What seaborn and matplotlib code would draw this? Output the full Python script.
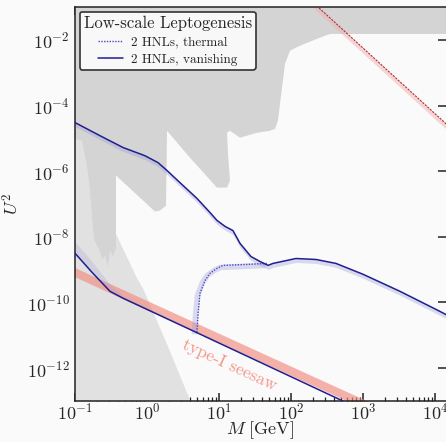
import numpy as np
import matplotlib
matplotlib.use("Agg")
import matplotlib.pyplot as plt
import seaborn as sns
import pandas as pd
from matplotlib.lines import Line2D
from matplotlib.ticker import LogLocator, NullLocator, FixedLocator

# --- values (log10 of M [GeV] and of U^2) ---
vanish_upper_logM = [-1.0, -0.653, -0.333, -0.028, 0.153, 0.278, 0.458, 0.694, 0.875,
                     0.972, 1.083, 1.194, 1.292, 1.444, 1.569, 1.681, 1.750, 2.069,
                     2.347, 2.625, 3.0, 3.514, 4.014, 4.2]
vanish_upper_logU2 = [-4.52, -4.92, -5.28, -5.53, -5.74, -5.98, -6.35, -6.83, -7.26,
                      -7.50, -7.68, -7.81, -8.20, -8.60, -8.75, -8.87, -8.81, -8.66,
                      -8.69, -8.81, -9.14, -9.66, -10.21, -10.42]

vanish_lower_logM = [-1.0, -0.764, -0.514, -0.333, 0.694, 2.75]
vanish_lower_logU2 = [-8.50, -9.08, -9.66, -9.87, -10.92, -13.03]
lower_band_top_logU2 = [-8.15, -8.75, -9.45, -9.80, -10.92, -13.03]

thermal_logM = [0.694, 0.708, 0.736, 0.806, 0.875, 0.972, 1.056, 1.389, 1.681]
thermal_logU2 = [-10.91, -10.39, -9.72, -9.33, -9.11, -8.96, -8.87, -8.84, -8.81]

seesaw_logM = [-1.1, 3.2]
seesaw_center_logU2 = [-8.98, -13.28]
seesaw_halfwidth = 0.14

unitarity_logM = [2.2, 4.3]
unitarity_logU2 = [-0.65, -4.85]

excluded_logM = [-1.1, 4.3, 4.3, 2.542, 2.361, 2.125, 1.986, 1.917, 1.875, 1.819,
                 1.778, 1.708, 1.528, 1.292, 1.153, 1.111, 1.125, 1.153, 1.111,
                 0.972, 0.597, 0.278, 0.264, 0.181, 0.111, -0.431, -0.431, -0.472,
                 -0.514, -0.542, -0.583, -0.625, -0.653, -0.694, -0.736, -0.764,
                 -0.792, -0.819, -0.875, -0.903, -1.0, -1.1]
excluded_logU2 = [-0.9, -0.9, -1.82, -1.82, -1.97, -2.18, -2.33, -2.73, -3.46, -4.46,
                  -4.71, -4.77, -4.83, -4.98, -4.77, -4.83, -5.47, -6.29, -6.50,
                  -6.50, -5.59, -4.77, -7.05, -7.20, -7.23, -6.13, -8.35, -8.60,
                  -8.41, -8.90, -8.57, -8.69, -8.44, -8.26, -8.08, -7.35,
                  -6.59, -6.04, -5.37, -5.07, -5.01, -5.01]

bbn_logM = [-1.1, -0.889, -0.819, -0.514, -0.139, -0.056, 0.278, 0.64, -1.1]
bbn_logU2 = [-5.01, -5.01, -5.89, -7.53, -9.26, -9.57, -11.27, -13.2, -13.2]

# --- style ---
sns.set_theme(style="ticks")
plt.rcParams.update({
    "font.family": "serif",
    "font.serif": ["cmr10"],
    "mathtext.fontset": "cm",
    "axes.formatter.use_mathtext": True,
    "axes.unicode_minus": False,
})

bg = "#fafafa"
navy = "#1f1f8f"
halo = "#9a9ad8"

fig = plt.figure(figsize=(4.46, 4.42), dpi=100, facecolor=bg)
ax = fig.add_axes([75 / 446, 1 - 401 / 442, 1 - 75 / 446, (401 - 7) / 442])
ax.set_facecolor(bg)
ax.set_xscale("log")
ax.set_yscale("log")

p = lambda v: 10.0 ** np.asarray(v, dtype=float)

# excluded regions
ax.fill(p(bbn_logM), p(bbn_logU2), color="#e1e1e1", lw=0, zorder=1)
ax.fill(p(excluded_logM), p(excluded_logU2), color="#d4d4d4", lw=0, zorder=1.1)

# type-I seesaw band
sm = p(seesaw_logM)
sc = np.asarray(seesaw_center_logU2)
ax.fill_between(sm, p(sc - seesaw_halfwidth), p(sc + seesaw_halfwidth),
                color="#f28b80", alpha=0.65, lw=0, zorder=2)
ax.text(10 ** 1.15, 10 ** -11.9, "type-I seesaw", color="#f4958b", fontsize=12.5,
        rotation=-24.6, ha="center", va="center", zorder=2)

# unitarity-like line in the upper right
um = p(unitarity_logM)
uu = np.asarray(unitarity_logU2)
ax.fill_between(um, p(uu - 0.16), p(uu), color="#f0b0b0", alpha=0.5, lw=0, zorder=2)

# halos
ax.fill_between(p(vanish_upper_logM), p(np.asarray(vanish_upper_logU2) - 0.12),
                p(vanish_upper_logU2), color=halo, alpha=0.35, lw=0, zorder=2.5)
ax.fill_between(p(vanish_lower_logM), p(vanish_lower_logU2), p(lower_band_top_logU2),
                color=halo, alpha=0.25, lw=0, zorder=2.5)
ax.plot(p(np.asarray(thermal_logM) - 0.035), p(np.asarray(thermal_logU2) - 0.06),
        color=halo, alpha=0.35, lw=4, solid_capstyle="butt", zorder=2.5)

# curves
df_up = pd.DataFrame({"M": p(vanish_upper_logM), "U2": p(vanish_upper_logU2)})
df_lo = pd.DataFrame({"M": p(vanish_lower_logM), "U2": p(vanish_lower_logU2)})
df_th = pd.DataFrame({"M": p(thermal_logM), "U2": p(thermal_logU2)})
df_un = pd.DataFrame({"M": um, "U2": p(uu)})

sns.lineplot(data=df_th, x="M", y="U2", ax=ax, sort=False, estimator=None,
             color="#4a4ac0", lw=1.0, linestyle=(0, (1, 1)), zorder=3)
sns.lineplot(data=df_up, x="M", y="U2", ax=ax, sort=False, estimator=None,
             color=navy, lw=1.1, zorder=3)
sns.lineplot(data=df_lo, x="M", y="U2", ax=ax, sort=False, estimator=None,
             color=navy, lw=1.1, zorder=3)
sns.lineplot(data=df_un, x="M", y="U2", ax=ax, sort=False, estimator=None,
             color="#b03030", lw=0.8, linestyle=(0, (2, 1)), zorder=3)

ax.set_xlim(0.1, 10 ** 4.153)
ax.set_ylim(1e-13, 1e-1)

ax.set_yticks([1e-12, 1e-10, 1e-8, 1e-6, 1e-4, 1e-2])
ax.yaxis.set_minor_locator(NullLocator())
ax.xaxis.set_major_locator(FixedLocator([1e-1, 1e0, 1e1, 1e2, 1e3, 1e4]))
ax.xaxis.set_minor_locator(LogLocator(base=10, subs=np.arange(2, 10), numticks=20))
ax.tick_params(which="both", direction="in", top=True, right=True, labelsize=13,
               color="#222222")
ax.tick_params(which="major", length=6, width=1.1)
ax.tick_params(which="minor", length=3.2, width=0.9)
ax.tick_params(axis="x", pad=0.5)
ax.tick_params(axis="y", pad=4)
for s in ["left", "bottom", "top"]:
    ax.spines[s].set_color("#222222")
    ax.spines[s].set_linewidth(1.1)
ax.spines["right"].set_visible(False)

ax.set_xlabel(r"$M\ [\mathrm{GeV}]$", fontsize=13, labelpad=-2)
ax.set_ylabel(r"$U^2$", fontsize=13, labelpad=4)

handles = [Line2D([], [], color="#4a4ac0", lw=1.0, linestyle=(0, (1, 1))),
           Line2D([], [], color=navy, lw=1.1)]
leg = ax.legend(handles, ["2 HNLs, thermal", "2 HNLs, vanishing"],
                title="Low-scale Leptogenesis", loc="upper left", fontsize=9.5,
                title_fontsize=12, frameon=True, fancybox=True, framealpha=1,
                facecolor="#f8f8f8", edgecolor="#333333", borderaxespad=0.35,
                handlelength=1.9, labelspacing=0.4, borderpad=0.3,
                handletextpad=0.6)
leg.get_frame().set_linewidth(1.2)
leg.set_zorder(6)

fig.savefig("out.png", dpi=100, facecolor=bg)
